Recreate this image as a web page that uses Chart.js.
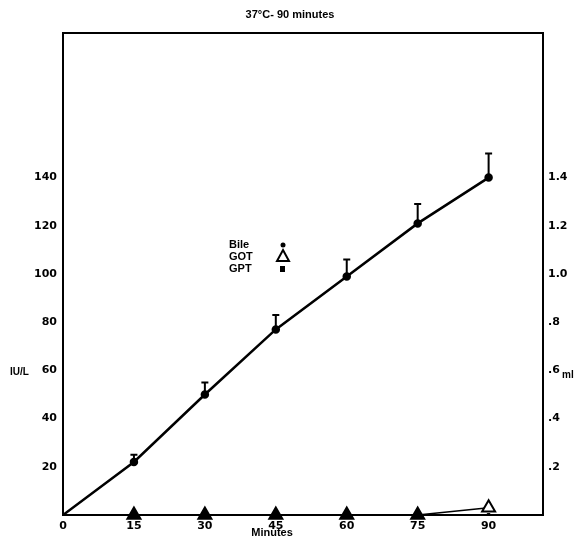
<!DOCTYPE html>
<html lang="en">
<head>
    <meta charset="UTF-8">
    <title>37°C - 90 minutes</title>
    <script src="https://cdn.jsdelivr.net/npm/chart.js"></script>
    <style>
        html, body { margin: 0; padding: 0; background: #fff; }
        .chart-box { width: 575px; height: 540px; position: relative; }
    </style>
</head>
<body>
    <div class="chart-box">
        <canvas id="bileChart"></canvas>
    </div>

    <script>
        // values
        const minutes = [0, 15, 30, 45, 60, 75, 90];
        const bileMl = [0, 0.22, 0.50, 0.77, 0.99, 1.21, 1.40];
        const bileErr = [0, 0.03, 0.05, 0.06, 0.07, 0.08, 0.10];
        const gotMinutes = [15, 30, 45, 60, 75, 90];
        const gotIU = [0, 0, 0, 0, 0, 3];
        const gptIU = [0, 0, 0, 0, 0, 0];
        const xTicks = [0, 15, 30, 45, 60, 75, 90];
        const iuTicks = [20, 40, 60, 80, 100, 120, 140];
        const mlTicks = [0.2, 0.4, 0.6, 0.8, 1.0, 1.2, 1.4];

        const tickFont = { family: 'DejaVu Sans, Arial, sans-serif', size: 11, weight: 'bold' };

        function near(list, v) {
            return list.some(t => Math.abs(t - v) < 1e-6);
        }

        // frame, error bars, titles and the in-plot key
        const extras = {
            id: 'extras',
            afterDatasetsDraw(chart) {
                const { ctx, chartArea: a, scales } = chart;
                ctx.save();
                ctx.strokeStyle = '#000';
                ctx.lineWidth = 2;
                ctx.strokeRect(a.left, a.top, a.right - a.left, a.bottom - a.top);

                // error bars (upper only)
                minutes.forEach((m, i) => {
                    if (!bileErr[i]) return;
                    const x = scales.x.getPixelForValue(m);
                    const y0 = scales.y2.getPixelForValue(bileMl[i]);
                    const y1 = scales.y2.getPixelForValue(bileMl[i] + bileErr[i]);
                    ctx.beginPath();
                    ctx.moveTo(x, y0);
                    ctx.lineTo(x, y1);
                    ctx.moveTo(x - 3.5, y1);
                    ctx.lineTo(x + 3.5, y1);
                    ctx.stroke();
                });

                ctx.fillStyle = '#000';
                ctx.font = 'bold 11px Liberation Sans, Arial, sans-serif';
                ctx.textBaseline = 'middle';
                ctx.textAlign = 'center';
                ctx.fillText('37°C- 90 minutes', 290, 15);
                ctx.fillText('Minutes', 272, 533);
                ctx.textAlign = 'left';
                ctx.font = 'bold 10px Liberation Sans, Arial, sans-serif';
                ctx.fillText('IU/L', 10, 372);
                ctx.fillText('ml', 562, 375);

                // key
                ctx.font = 'bold 11px Liberation Sans, Arial, sans-serif';
                ctx.fillText('Bile', 229, 245);
                ctx.fillText('GOT', 229, 257);
                ctx.fillText('GPT', 229, 269);
                ctx.beginPath();
                ctx.arc(283, 245, 2.5, 0, Math.PI * 2);
                ctx.fill();
                ctx.beginPath();
                ctx.moveTo(283, 250);
                ctx.lineTo(289, 261);
                ctx.lineTo(277, 261);
                ctx.closePath();
                ctx.lineWidth = 2;
                ctx.stroke();
                ctx.fillRect(280, 266, 5, 6);
                ctx.restore();
            }
        };

        const ctx = document.getElementById('bileChart').getContext('2d');
        new Chart(ctx, {
            type: 'line',
            data: {
                datasets: [
                    {
                        label: 'Bile',
                        data: minutes.map((m, i) => ({ x: m, y: bileMl[i] })),
                        yAxisID: 'y2',
                        borderColor: '#000',
                        borderWidth: 2.5,
                        backgroundColor: '#000',
                        pointRadius: minutes.map((m, i) => i === 0 ? 0 : 3),
                        tension: 0
                    },
                    {
                        label: 'GOT',
                        data: gotMinutes.map((m, i) => ({ x: m, y: gotIU[i] })),
                        yAxisID: 'y',
                        clip: false,
                        borderColor: '#000',
                        borderWidth: 1.5,
                        pointStyle: 'triangle',
                        pointRadius: 7.5,
                        pointBorderWidth: 2,
                        pointBackgroundColor: gotIU.map((v, i) => i === gotIU.length - 1 ? '#fff' : '#000'),
                        pointBorderColor: '#000',
                        tension: 0
                    },
                    {
                        // sits under the triangles on the axis
                        label: 'GPT',
                        data: gotMinutes.map((m, i) => ({ x: m, y: gptIU[i] })),
                        yAxisID: 'y',
                        showLine: false,
                        pointStyle: 'rect',
                        pointRadius: 2,
                        backgroundColor: '#000',
                        borderColor: '#000'
                    }
                ]
            },
            options: {
                responsive: true,
                maintainAspectRatio: false,
                animation: false,
                layout: { padding: { top: 33, left: 0, right: 0, bottom: 0 } },
                plugins: {
                    legend: { display: false },
                    tooltip: { enabled: false }
                },
                scales: {
                    x: {
                        type: 'linear',
                        min: 0,
                        max: 101.5,
                        afterBuildTicks: s => { s.ticks = xTicks.map(v => ({ value: v })); },
                        afterFit: s => { s.height = 25; },
                        grid: { display: false, drawTicks: false },
                        border: { display: false },
                        ticks: {
                            color: '#000',
                            font: tickFont,
                            padding: 5,
                            maxRotation: 0,
                            callback: v => near(xTicks, v) ? String(v) : ''
                        }
                    },
                    y: {
                        position: 'left',
                        min: 0,
                        max: 200,
                        afterBuildTicks: s => { s.ticks = iuTicks.map(v => ({ value: v })); },
                        afterFit: s => { s.width = 63; },
                        grid: { display: false, drawTicks: false },
                        border: { display: false },
                        ticks: {
                            color: '#000',
                            font: tickFont,
                            padding: 6,
                            callback: v => near(iuTicks, v) ? String(v) : ''
                        }
                    },
                    y2: {
                        position: 'right',
                        min: 0,
                        max: 2,
                        afterBuildTicks: s => { s.ticks = mlTicks.map(v => ({ value: v })); },
                        afterFit: s => { s.width = 32; },
                        grid: { display: false, drawTicks: false },
                        border: { display: false },
                        ticks: {
                            color: '#000',
                            font: tickFont,
                            padding: 5,
                            callback: v => {
                                if (!near(mlTicks, v)) return '';
                                return v < 1 ? '.' + Math.round(v * 10) : v.toFixed(1);
                            }
                        }
                    }
                }
            },
            plugins: [extras]
        });
    </script>
</body>
</html>
